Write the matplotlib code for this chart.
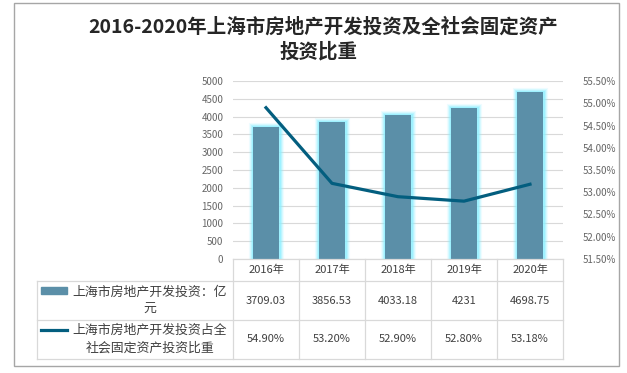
import matplotlib.pyplot as plt
from matplotlib.patches import Rectangle
from matplotlib.ticker import FuncFormatter, MultipleLocator

plt.rcParams['font.family'] = ['Noto Sans CJK SC', 'DejaVu Sans']

years = ['2016年', '2017年', '2018年', '2019年', '2020年']
invest = [3709.03, 3856.53, 4033.18, 4231, 4698.75]
share = [54.90, 53.20, 52.90, 52.80, 53.18]
bar_label = '上海市房地产开发投资：亿\n元'
line_label = '上海市房地产开发投资占全\n社会固定资产投资比重'

bar_color = '#5b8fa8'
line_color = '#035e7f'
grid_color = '#d9d9d9'
tick_color = '#666666'
text_color = '#404040'

W, H = 627, 373
fig = plt.figure(figsize=(W / 100, H / 100), dpi=100)


def fx(px):
    return px / W


def fy(py):
    return 1 - py / H


# outer frame
fig.patches.append(Rectangle((fx(14), fy(366)), fx(619 - 14), (366 - 3) / H,
                             transform=fig.transFigure, fill=False,
                             edgecolor='#a6a6a6', linewidth=1))

fig.text(0.515, fy(27), '2016-2020年上海市房地产开发投资及全社会固定资产',
         ha='center', va='center', fontsize=14, fontweight='bold', color='#262626')
fig.text(0.508, fy(52), '投资比重',
         ha='center', va='center', fontsize=14, fontweight='bold', color='#262626')

# main plot
left, right, top, bottom = 233, 563, 81, 259
ax = fig.add_axes([fx(left), fy(bottom), fx(right - left), (bottom - top) / H])
x = list(range(len(years)))
# soft cyan glow around the bars
for lw_glow, a in [(6.5, 0.15), (5, 0.25), (3.5, 0.4), (2.2, 0.6)]:
    ax.bar(x, invest, 0.4, color='none', edgecolor='#8ff0ff', linewidth=lw_glow,
           alpha=a, zorder=2)
ax.bar(x, invest, 0.4, color=bar_color, linewidth=0, zorder=4)
ax.set_xlim(-0.5, len(years) - 0.5)
ax.set_ylim(0, 5000)
ax.yaxis.set_major_locator(MultipleLocator(500))
ax.grid(axis='y', color=grid_color, linewidth=0.8, zorder=0)
ax.set_xticks([])
for s in ax.spines.values():
    s.set_visible(False)
ax.tick_params(axis='y', length=0, pad=7, labelsize=7, labelcolor=tick_color)

ax2 = ax.twinx()
ax2.plot(x, share, color=line_color, linewidth=2.3, zorder=5)
ax2.set_ylim(51.5, 55.5)
ax2.yaxis.set_major_locator(MultipleLocator(0.5))
ax2.yaxis.set_major_formatter(FuncFormatter(lambda v, p: f'{v:.2f}%'))
for s in ax2.spines.values():
    s.set_visible(False)
ax2.tick_params(axis='y', length=0, pad=14, labelsize=7, labelcolor=tick_color)

# data table below the plot
tleft, tbottom = 37, 359
unit = (right - left) / len(years)
x0 = -0.5 - (left - tleft) / unit
tab = fig.add_axes([fx(tleft), fy(tbottom), fx(right - tleft), (tbottom - bottom) / H])
tab.set_xlim(x0, len(years) - 0.5)
tab.set_ylim(tbottom, bottom)
tab.axis('off')


def ux(px):
    return x0 + (px - tleft) / unit


rows = [bottom, 281, 320, tbottom]
lw = 0.9
tab.plot([-0.5, len(years) - 0.5], [rows[0]] * 2, color=grid_color, lw=lw, clip_on=False)
for r in rows[1:]:
    tab.plot([x0, len(years) - 0.5], [r] * 2, color=grid_color, lw=lw, clip_on=False)
tab.plot([x0, x0], [rows[1], rows[3]], color=grid_color, lw=lw, clip_on=False)
for b in range(len(years) + 1):
    tab.plot([b - 0.5] * 2, [rows[0], rows[3]], color=grid_color, lw=lw, clip_on=False)

for i, yr in enumerate(years):
    tab.text(i, (rows[0] + rows[1]) / 2, yr, ha='center', va='center',
             fontsize=8, color=text_color)
    tab.text(i, (rows[1] + rows[2]) / 2, f'{invest[i]:g}', ha='center', va='center',
             fontsize=8, color=text_color)
    tab.text(i, (rows[2] + rows[3]) / 2, f'{share[i]:.2f}%', ha='center', va='center',
             fontsize=8, color=text_color)

# legend keys in the first column
tab.add_patch(Rectangle((ux(41), 287), ux(67) - ux(41), 7, color=bar_color, clip_on=False))
tab.plot([ux(41), ux(67)], [330, 330], color=line_color, lw=2.3, clip_on=False)
tab.text(ux(150), 301, bar_label, ha='center', va='center', multialignment='center',
         fontsize=9.3, color=text_color, linespacing=1.45)
tab.text(ux(150), 339.5, line_label, ha='center', va='center', multialignment='center',
         fontsize=9.3, color=text_color, linespacing=1.45)

fig.savefig('out.png', dpi=100)
